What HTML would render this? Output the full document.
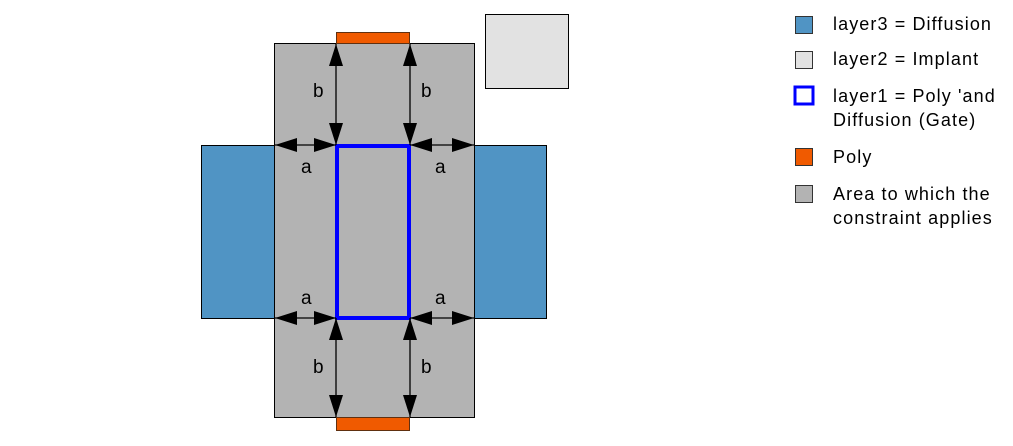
<!DOCTYPE html>
<html><head><meta charset="utf-8"><style>
body{margin:0;background:#fff;width:1013px;height:446px;overflow:hidden}
svg{display:block}
text{font-family:"Liberation Sans",sans-serif;font-size:18px;letter-spacing:1.1px;fill:#000}
text.l{font-size:19px;letter-spacing:0}
</style></head><body>
<svg width="1013" height="446" viewBox="0 0 1013 446">
<defs>
<marker id="ah" viewBox="0 0 22 14" refX="22" refY="7" markerWidth="22" markerHeight="14" markerUnits="userSpaceOnUse" orient="auto-start-reverse">
<path d="M0,0 L22,7 L0,14 Z" fill="#000"/></marker>
</defs>
<rect x="201.5" y="145.5" width="73" height="173" fill="#5094c4" stroke="#000"/>
<rect x="474.5" y="145.5" width="72" height="173" fill="#5094c4" stroke="#000"/>
<rect x="274.5" y="43.5" width="200" height="374" fill="#b3b3b3" stroke="#000"/>
<rect x="336.5" y="32.5" width="73" height="11" fill="#f05a00" stroke="#603010"/>
<rect x="336.5" y="417.5" width="73" height="13" fill="#f05a00" stroke="#603010"/>
<rect x="485.5" y="14.5" width="83" height="74" fill="#e2e2e2" stroke="#000"/>
<rect x="337" y="146" width="72" height="172" fill="none" stroke="#0000ff" stroke-width="4"/>
<g stroke="#000" stroke-width="1.3" marker-start="url(#ah)" marker-end="url(#ah)">
<line x1="336" y1="44" x2="336" y2="145"/>
<line x1="410" y1="44" x2="410" y2="145"/>
<line x1="275" y1="145" x2="336" y2="145"/>
<line x1="410" y1="145" x2="474" y2="145"/>
<line x1="275" y1="318" x2="336" y2="318"/>
<line x1="410" y1="318" x2="474" y2="318"/>
<line x1="336" y1="318" x2="336" y2="417"/>
<line x1="410" y1="318" x2="410" y2="417"/>
</g>
<text class="l" x="313" y="97">b</text><text class="l" x="421" y="97">b</text>
<text class="l" x="301" y="173">a</text><text class="l" x="435" y="173">a</text>
<text class="l" x="301" y="304">a</text><text class="l" x="435" y="304">a</text>
<text class="l" x="313" y="373">b</text><text class="l" x="421" y="373">b</text>
<rect x="795.5" y="16.5" width="17" height="17" fill="#5094c4" stroke="#333"/>
<rect x="795.5" y="51.5" width="17" height="17" fill="#e2e2e2" stroke="#333"/>
<rect x="795" y="87" width="18" height="17" fill="#fff" stroke="#0000ff" stroke-width="3"/>
<rect x="795.5" y="148.5" width="17" height="17" fill="#f05a00" stroke="#333"/>
<rect x="795.5" y="185.5" width="17" height="17" fill="#b3b3b3" stroke="#333"/>
<text x="833" y="30">layer3 = Diffusion</text>
<text x="833" y="65">layer2 = Implant</text>
<text x="833" y="102">layer1 = Poly 'and</text>
<text x="833" y="126">Diffusion (Gate)</text>
<text x="833" y="163">Poly</text>
<text x="833" y="200">Area to which the</text>
<text x="833" y="224">constraint applies</text>
</svg>
</body></html>
